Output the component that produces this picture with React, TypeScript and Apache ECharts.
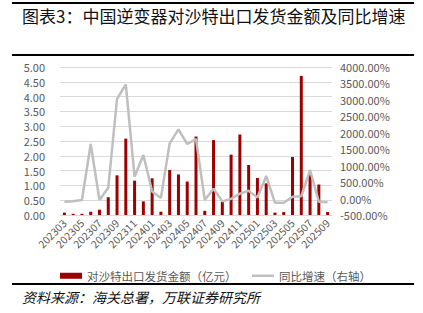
import React, { useEffect, useRef } from "react";
import * as echarts from "echarts";

const categories = [
  "202303", "202304", "202305", "202306", "202307", "202308", "202309", "202310",
  "202311", "202312", "202401", "202402", "202403", "202404", "202405", "202406",
  "202407", "202408", "202409", "202410", "202411", "202412", "202501", "202502",
  "202503", "202504", "202505", "202506", "202507", "202508", "202509",
];

const exportValue = [
  0.08, 0.04, 0.04, 0.11, 0.18, 0.6, 1.34, 2.58,
  1.16, 0.46, 1.24, 0.11, 1.52, 1.37, 1.13, 2.65,
  0.14, 2.53, 0.45, 2.04, 2.72, 1.69, 1.25, 1.07,
  0.08, 0.1, 1.96, 4.7, 1.4, 1.03, 0.1,
];

const yoyGrowth = [
  -100, -85, -44, 1660, -44, 330, 3027, 3474,
  665, 1324, 215, 20, 1680, 2105, 1659, 1811,
  -44, 300, -85, -10, 150, 239, 32, 686,
  -126, -126, 56, 70, 868, -96, -114,
];

const leftTicks = { min: 0, max: 5, interval: 0.5 };
const rightTicks = { min: -500, max: 4000, interval: 500 };

const titleText = "图表3：中国逆变器对沙特出口发货金额及同比增速";
const sourceText = "资料来源：海关总署，万联证券研究所";
const barName = "对沙特出口发货金额（亿元）";
const lineName = "同比增速（右轴）";

export default function App() {
  const ref = useRef<HTMLDivElement>(null);
  useEffect(() => {
    if (!ref.current) return;
    const chart = echarts.init(ref.current, null, { renderer: "svg" });
    const cjk = "Noto Sans CJK SC";
    chart.setOption({
      animation: false,
      backgroundColor: "#ffffff",
      textStyle: { fontFamily: cjk },
      grid: { left: 60, right: 91, top: 67, bottom: 98 },
      legend: [
        {
          left: 55,
          top: 265,
          itemWidth: 22,
          itemHeight: 6,
          textStyle: { fontSize: 11.5, color: "#595959", fontFamily: cjk },
          data: [{ name: barName, icon: "rect" }],
        },
        {
          left: 247,
          top: 265,
          itemWidth: 22,
          itemHeight: 2.5,
          textStyle: { fontSize: 11.5, color: "#595959", fontFamily: cjk },
          data: [{ name: lineName, icon: "rect" }],
        },
      ],
      xAxis: {
        type: "category",
        data: categories,
        boundaryGap: true,
        axisLine: { show: false },
        axisTick: { show: false },
        axisLabel: {
          interval: 1,
          rotate: 45,
          fontSize: 10.5,
          color: "#595959",
          margin: 6,
        },
      },
      yAxis: [
        {
          type: "value",
          min: leftTicks.min,
          max: leftTicks.max,
          interval: leftTicks.interval,
          axisLine: { show: false },
          axisTick: { show: false },
          splitLine: { lineStyle: { color: "#d9d9d9", width: 1 } },
          axisLabel: {
            fontSize: 11,
            color: "#595959",
            margin: 15,
            formatter: (v: number) => v.toFixed(2),
          },
        },
        {
          type: "value",
          min: rightTicks.min,
          max: rightTicks.max,
          interval: rightTicks.interval,
          axisLine: { show: false },
          axisTick: { show: false },
          splitLine: { show: false },
          axisLabel: {
            fontSize: 11,
            color: "#595959",
            margin: 8,
            formatter: (v: number) => v.toFixed(2) + "%",
          },
        },
      ],
      series: [
        {
          name: barName,
          type: "bar",
          data: exportValue,
          barWidth: 3,
          itemStyle: { color: "#9c0000" },
        },
        {
          name: lineName,
          type: "line",
          yAxisIndex: 1,
          data: yoyGrowth,
          symbol: "none",
          lineStyle: { color: "#bfbfbf", width: 2.5 },
          itemStyle: { color: "#bfbfbf" },
        },
      ],
      graphic: [
        { type: "rect", shape: { x: 12, y: 2, width: 402, height: 2 }, style: { fill: "#000" } },
        {
          type: "text",
          x: 22,
          y: 7,
          style: { text: titleText, fontSize: 17, fontFamily: cjk, fill: "#111" },
        },
        { type: "rect", shape: { x: 12, y: 54, width: 402, height: 2 }, style: { fill: "#000" } },
        { type: "rect", shape: { x: 12, y: 283, width: 402, height: 2 }, style: { fill: "#000" } },
        {
          type: "text",
          x: 22,
          y: 290,
          style: {
            text: sourceText,
            fontSize: 14,
            fontStyle: "italic",
            fontFamily: cjk,
            fill: "#111",
          },
        },
      ],
    });
    return () => chart.dispose();
  }, []);
  return (
    <div
      ref={ref}
      style={{ position: "fixed", left: 0, top: 0, width: 423, height: 313, background: "#fff" }}
    />
  );
}
